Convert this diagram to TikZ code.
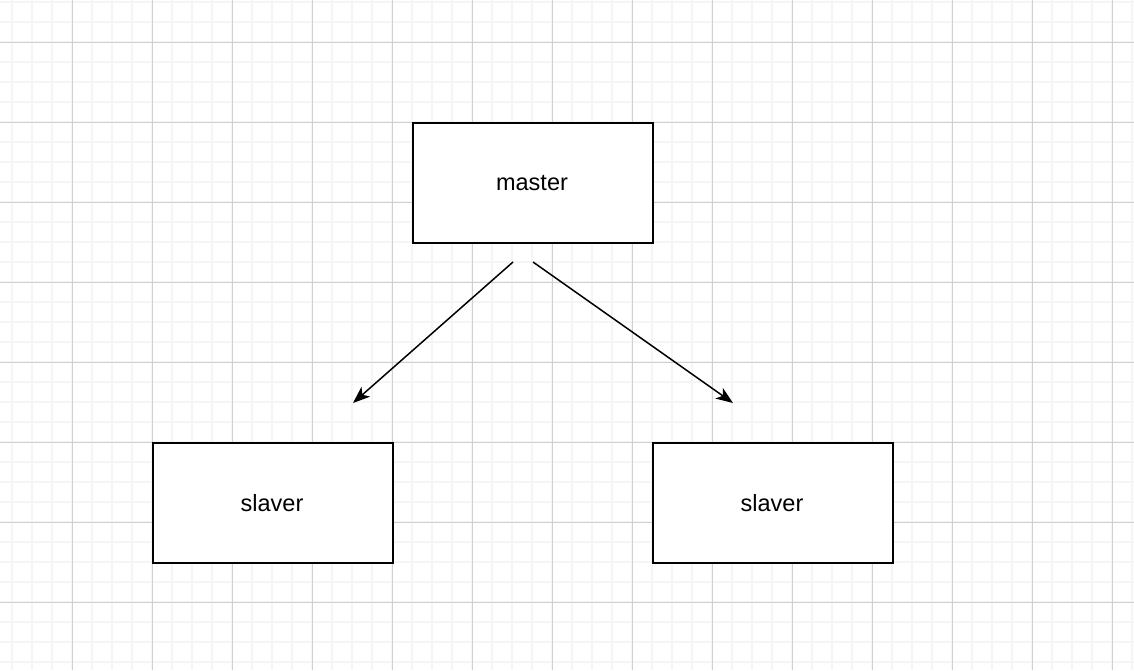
\documentclass[tikz,border=0pt]{standalone}
\usepackage{fontspec}
\setmainfont{Liberation Sans}
\usetikzlibrary{arrows.meta}
\definecolor{minorgrid}{HTML}{F5F5F5}
\definecolor{majorgrid}{HTML}{D0D0D0}
\begin{document}
\begin{tikzpicture}[x=1pt,y=-1pt,
  box/.style={draw=black,line width=1.4pt,minimum width=240pt,minimum height=120pt,inner sep=0pt,font=\fontsize{23.5}{28}\selectfont,fill=white},
  conn/.style={line width=1.5pt,-{Stealth[length=17pt,width=13pt,inset=4.5pt]}}]
\useasboundingbox (0,0) rectangle (1134,670);
\fill[white] (0,0) rectangle (1134,670);
% minor grid
\foreach \x in {12,32,...,1132} \draw[minorgrid,line width=2pt] (\x,0) -- (\x,670);
\foreach \y in {2,22,...,670} \draw[minorgrid,line width=2pt] (0,\y) -- (1134,\y);
% major grid
\foreach \x in {72,152,...,1132} \draw[majorgrid,line width=1pt] (\x,0) -- (\x,670);
\foreach \y in {42,122,...,670} \draw[majorgrid,line width=1pt] (0,\y) -- (1134,\y);
\node[box] (master) at (533,183) {\hspace*{-2pt}master};
\node[box] (s1) at (273,503) {\hspace*{-2pt}slaver};
\node[box] (s2) at (773,503) {\hspace*{-2pt}slaver};
\coordinate (a1) at (513,262);
\coordinate (b1) at (353,403);
\coordinate (a2) at (533,262);
\coordinate (b2) at (733,403);
\draw[conn] (a1) -- (b1);
\draw[conn] (a2) -- (b2);
\end{tikzpicture}
\end{document}
